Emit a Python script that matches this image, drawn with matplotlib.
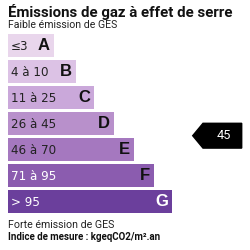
import matplotlib
matplotlib.use('Agg')
import matplotlib.pyplot as plt
from matplotlib.patches import Polygon

classes = ['A', 'B', 'C', 'D', 'E', 'F', 'G']
ranges = ['≤3', '4 à 10', '11 à 25', '26 à 45', '46 à 70', '71 à 95', '> 95']
bar_lengths = [46, 68, 86, 106, 126, 146, 164]
colors = ['#e9d6ec', '#dcc2e5', '#caa8da', '#b890cb', '#a578bf', '#8b5caf', '#6b3f9c']
range_colors = ['#222222', '#222222', '#222222', '#222222', '#222222', '#ffffff', '#ffffff']
letter_colors = ['#111111', '#111111', '#111111', '#111111', '#111111', '#111111', '#ffffff']
value = 45
value_y = 135.7

fig = plt.figure(figsize=(2.5, 2.5), dpi=100)
ax = fig.add_axes([0, 0, 1, 1])
ax.set_xlim(0, 250)
ax.set_ylim(250, 0)
ax.axis('off')

ys = [45.5 + 26 * i for i in range(len(classes))]
ax.barh(ys, bar_lengths, left=8, height=23, color=colors)

for y, w, r, c, rc, lc in zip(ys, bar_lengths, ranges, classes, range_colors, letter_colors):
    ax.text(11, y + 0.5, r, fontsize=8.6, family='DejaVu Sans', color=rc, va='center', ha='left')
    ax.text(8 + w - 4, y + 0.5, c, fontsize=12, family='Liberation Sans', weight='bold',
            color=lc, va='center', ha='right')

ax.text(8, 17, 'Émissions de gaz à effet de serre', fontsize=10.8, family='Roboto',
        weight='bold', color='#111111', va='baseline', ha='left')
ax.text(8, 28.5, 'Faible émission de GES', fontsize=7.6, family='Roboto',
        color='#222222', va='baseline', ha='left')
ax.text(8, 227.5, 'Forte émission de GES', fontsize=7.7, family='Roboto',
        color='#222222', va='baseline', ha='left')
ax.text(8, 240.5, 'Indice de mesure : kgeqCO2/m².an', fontsize=7.0, family='Roboto',
        weight='bold', color='#111111', va='baseline', ha='left')

arrow = Polygon([(192.7, value_y), (203, value_y - 12.4), (241.7, value_y - 12.4),
                 (241.7, value_y + 12.4), (203, value_y + 12.4)], closed=True,
                color='black')
ax.add_patch(arrow)
ax.text(224, value_y, str(value), fontsize=9.2, family='Roboto', color='white',
        va='center', ha='center')

fig.savefig('out.png', dpi=100)
